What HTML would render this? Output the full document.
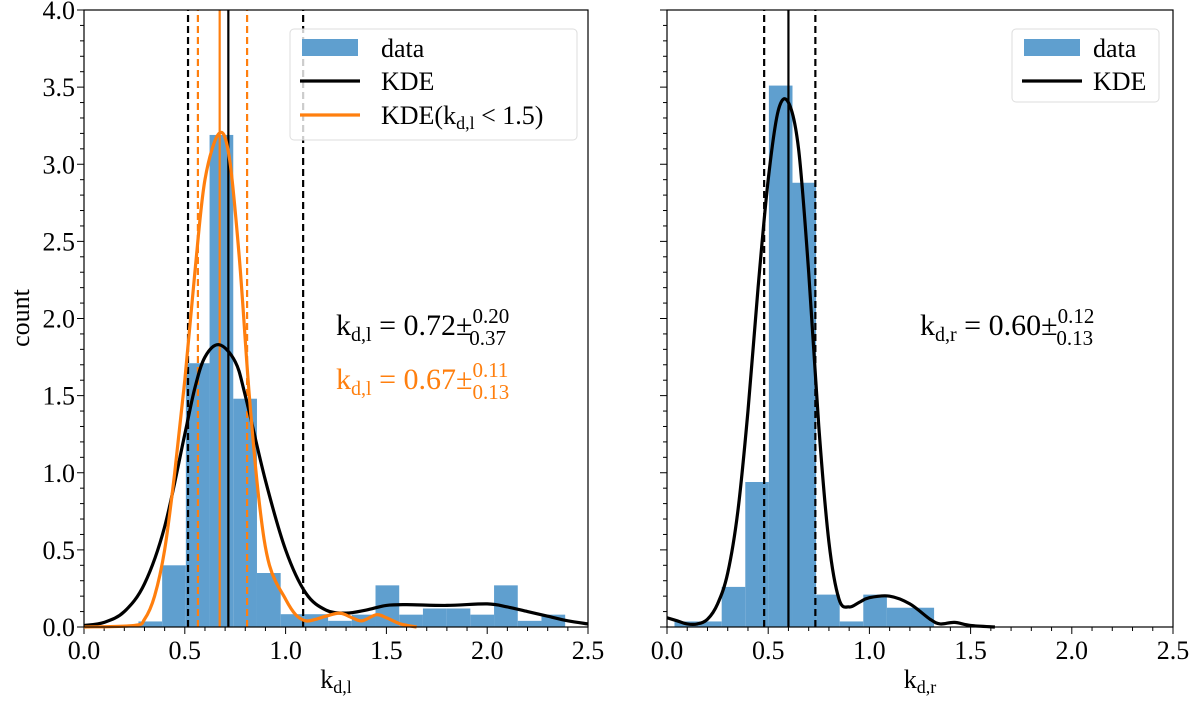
<!DOCTYPE html>
<html><head><meta charset="utf-8"><style>
body{margin:0;background:#fff;}
svg{display:block;font-family:"Liberation Serif",serif;}
</style></head><body>
<svg id="fig" width="1200" height="705" viewBox="0 0 1200 705" xmlns="http://www.w3.org/2000/svg"></svg>
<script>
// ---- data ----
const leftBinStart = 0.27, leftBinWidth = 0.1176;
const leftCounts = [0.036,0.40,1.71,3.19,1.48,0.35,0.083,0.083,0.04,0.08,0.27,0.08,0.12,0.12,0.08,0.27,0.04,0.08];
const rightBinStart = 0.037, rightBinWidth = 0.1166;
const rightCounts = [0.036,0.036,0.26,0.94,3.51,2.88,0.21,0.036,0.21,0.125,0.125,0];
const leftKdeX = [0,0.1,0.2,0.3,0.4,0.5,0.55,0.6,0.67,0.75,0.8,0.9,1.0,1.1,1.2,1.3,1.4,1.5,1.6,1.8,2.0,2.1,2.2,2.3,2.4,2.5];
const leftKdeY = [0.01,0.03,0.1,0.28,0.65,1.25,1.55,1.75,1.83,1.72,1.5,0.95,0.5,0.22,0.11,0.09,0.11,0.14,0.145,0.14,0.15,0.13,0.1,0.07,0.04,0.02];
const leftKde2X = [0,0.25,0.3,0.35,0.4,0.45,0.5,0.55,0.6,0.67,0.72,0.77,0.82,0.87,0.92,1.0,1.05,1.1,1.15,1.2,1.27,1.33,1.38,1.45,1.5,1.57,1.65];
const leftKde2Y = [0,0.01,0.05,0.2,0.5,1.0,1.6,2.3,2.9,3.2,3.05,2.4,1.5,0.8,0.4,0.18,0.08,0.04,0.05,0.07,0.09,0.06,0.04,0.08,0.06,0.02,0];
const rightKdeX = [0,0.05,0.1,0.15,0.2,0.25,0.3,0.35,0.4,0.45,0.5,0.55,0.6,0.65,0.7,0.75,0.8,0.85,0.9,0.95,1.0,1.1,1.2,1.3,1.35,1.42,1.5,1.62];
const rightKdeY = [0.06,0.04,0.02,0.02,0.05,0.15,0.35,0.75,1.4,2.2,2.9,3.35,3.4,3.1,2.3,1.3,0.55,0.18,0.13,0.16,0.19,0.2,0.15,0.05,0.02,0.03,0.01,0];
const leftVlines = [0.516,0.716,1.087];
const leftVlines2 = [0.565,0.673,0.809];
const rightVlines = [0.48,0.60,0.733];
const xTicks = [0,0.5,1.0,1.5,2.0,2.5];
const xTickLabels = ["0.0","0.5","1.0","1.5","2.0","2.5"];
const yTicks = [0,0.5,1,1.5,2,2.5,3,3.5,4];
const yTickLabels = ["0.0","0.5","1.0","1.5","2.0","2.5","3.0","3.5","4.0"];

const NS="http://www.w3.org/2000/svg";
const svg=document.getElementById('fig');
function mk(tag,attrs,parent){const e=document.createElementNS(NS,tag);for(const k in attrs)e.setAttribute(k,attrs[k]);(parent||svg).appendChild(e);return e;}
const Y0=627,Y1=10;
function makeAx(x0,x1){return {x:v=>x0+(v/2.5)*(x1-x0), y:v=>Y0-(v/4)*(Y0-Y1), x0,x1};}
const L=makeAx(84,588), R=makeAx(667,1173);

function smooth(ax,xs,ys){
  const p=xs.map((x,i)=>[ax.x(x),ax.y(ys[i])]);
  let d=`M${p[0][0]},${p[0][1]}`;
  for(let i=0;i<p.length-1;i++){
    const p0=p[Math.max(0,i-1)],p1=p[i],p2=p[i+1],p3=p[Math.min(p.length-1,i+2)];
    const c1=[p1[0]+(p2[0]-p0[0])/6,p1[1]+(p2[1]-p0[1])/6];
    const c2=[p2[0]-(p3[0]-p1[0])/6,p2[1]-(p3[1]-p1[1])/6];
    d+=` C${c1[0]},${c1[1]} ${c2[0]},${c2[1]} ${p2[0]},${p2[1]}`;
  }
  return d;
}

function panel(ax,prefix,start,w,counts,showY){
  const g=mk('g',{});
  
  
  counts.forEach((c,i)=>{
    if(c<=0)return;
    const xa=ax.x(start+i*w), xb=ax.x(start+(i+1)*w);
    const r=mk('rect',{x:xa,y:ax.y(c),width:xb-xa,height:ax.y(0)-ax.y(c),fill:'#5f9fcf'},g);
    
    
  });
  for(let k=0;k<=25;k++){
    const v=k/10, X=ax.x(v), major=k%5===0;
    mk('line',{x1:X,x2:X,y1:Y0,y2:Y0+(major?7:4),stroke:'#000','stroke-width':1},g);
  }
  for(let k=0;k<=40;k++){
    const v=k/10, Yp=ax.y(v), major=k%5===0;
    mk('line',{x1:ax.x0,x2:ax.x0-(major?7:4),y1:Yp,y2:Yp,stroke:'#000','stroke-width':1},g);
  }
  xTicks.forEach((v,i)=>{
    const t=mk('text',{x:ax.x(v),y:Y0+32,'text-anchor':'middle','font-size':26},g);
    t.textContent=xTickLabels[i];
    
    
  });
  if(showY) yTicks.forEach((v,i)=>{
    const t=mk('text',{x:ax.x0-9,y:ax.y(v)+9,'text-anchor':'end','font-size':26},g);
    t.textContent=yTickLabels[i];
    
    
  });
  return g;
}
function vline(ax,v,color,dash,g,name){
  const l=mk('line',{x1:ax.x(v),x2:ax.x(v),y1:Y0,y2:Y1,stroke:color,'stroke-width':2.2,'stroke-dasharray':dash?'7,4':'none'},g);
  
  
}
function curve(ax,xs,ys,color,g,name){
  const p=mk('path',{d:smooth(ax,xs,ys),fill:'none',stroke:color,'stroke-width':3.2},g);
  
  
}

const gl=panel(L,'left',leftBinStart,leftBinWidth,leftCounts,true);
vline(L,leftVlines[0],'#000',true,gl,'left-kde-lower-line');
vline(L,leftVlines[1],'#000',false,gl,'left-kde-median-line');
vline(L,leftVlines[2],'#000',true,gl,'left-kde-upper-line');
vline(L,leftVlines2[0],'#ff7f0e',true,gl,'left-kde2-lower-line');
vline(L,leftVlines2[1],'#ff7f0e',false,gl,'left-kde2-median-line');
vline(L,leftVlines2[2],'#ff7f0e',true,gl,'left-kde2-upper-line');
curve(L,leftKdeX,leftKdeY,'#000',gl,'left-kde-curve');
curve(L,leftKde2X,leftKde2Y,'#ff7f0e',gl,'left-kde2-curve');
const gr=panel(R,'right',rightBinStart,rightBinWidth,rightCounts,false);
vline(R,rightVlines[0],'#000',true,gr,'right-kde-lower-line');
vline(R,rightVlines[1],'#000',false,gr,'right-kde-median-line');
vline(R,rightVlines[2],'#000',true,gr,'right-kde-upper-line');
curve(R,rightKdeX,rightKdeY,'#000',gr,'right-kde-curve');
</script>
<svg style="position:absolute;left:0;top:0" width="1200" height="705" xmlns="http://www.w3.org/2000/svg" font-family="Liberation Serif, serif">
  <rect x="84" y="10" width="504" height="617" fill="none" stroke="#000" stroke-width="1.2"/>
  <rect x="667" y="10" width="506" height="617" fill="none" stroke="#000" stroke-width="1.2"/>
  <g>
    <rect x="290" y="29" width="287" height="111" rx="4" fill="#fff" fill-opacity="0.8" stroke="#ddd"/>
    <rect x="302" y="39" width="56" height="17" fill="#5f9fcf"/>
    <text x="381" y="57" font-size="26">data</text>
    <line x1="300" x2="360" y1="81" y2="81" stroke="#000" stroke-width="3.2"/>
    <text x="381" y="90" font-size="26">KDE</text>
    <line x1="300" x2="360" y1="115" y2="115" stroke="#ff7f0e" stroke-width="3.2"/>
    <text x="381" y="124" font-size="26">KDE(k<tspan font-size="18" dy="5">d,l</tspan><tspan dy="-5"> &lt; 1.5)</tspan></text>
  </g>
  <g>
    <rect x="1012" y="29" width="147" height="73" rx="4" fill="#fff" fill-opacity="0.8" stroke="#ddd"/>
    <rect x="1024" y="39" width="56" height="17" fill="#5f9fcf"/>
    <text x="1093" y="57" font-size="26">data</text>
    <line x1="1022" x2="1082" y1="81" y2="81" stroke="#000" stroke-width="3.2"/>
    <text x="1093" y="90" font-size="26">KDE</text>
  </g>
  <text x="336" y="335" font-size="30">k<tspan font-size="20" dy="6">d,l</tspan><tspan dy="-6"> = 0.72±</tspan><tspan font-size="21" dy="-12">0.20</tspan><tspan font-size="21" dx="-40" dy="22">0.37</tspan></text>
  <text x="336" y="389" font-size="30" fill="#ff7f0e">k<tspan font-size="20" dy="6">d,l</tspan><tspan dy="-6"> = 0.67±</tspan><tspan font-size="21" dy="-12">0.11</tspan><tspan font-size="21" dx="-36" dy="22">0.13</tspan></text>
  <text x="920" y="335" font-size="30">k<tspan font-size="20" dy="6">d,r</tspan><tspan dy="-6"> = 0.60±</tspan><tspan font-size="21" dy="-12">0.12</tspan><tspan font-size="21" dx="-38" dy="22">0.13</tspan></text>
  <text x="336" y="688" font-size="26" text-anchor="middle">k<tspan font-size="18" dy="5">d,l</tspan></text>
  <text x="920" y="688" font-size="26" text-anchor="middle">k<tspan font-size="18" dy="5">d,r</tspan></text>
  <text transform="translate(29,318) rotate(-90)" font-size="26" text-anchor="middle">count</text>
</svg>
</body></html>
